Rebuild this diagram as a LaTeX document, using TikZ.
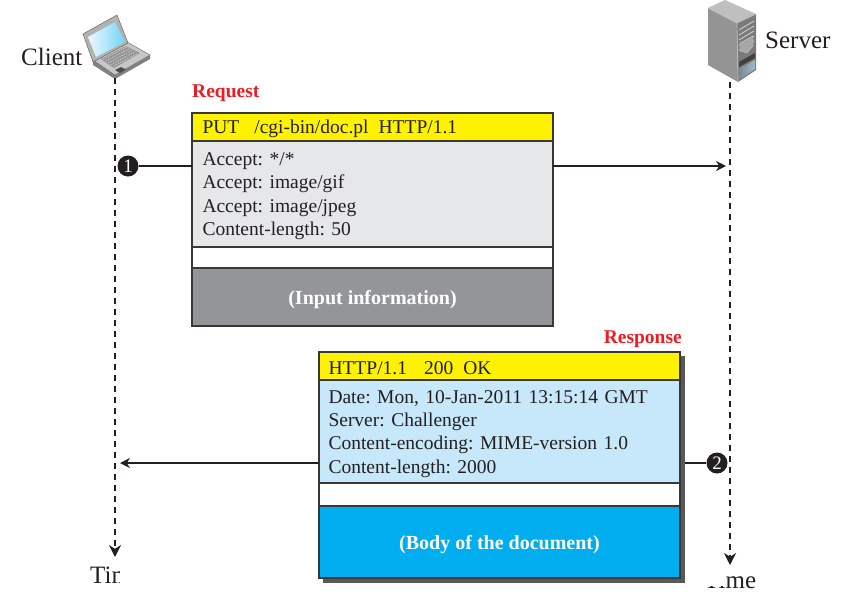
\documentclass[tikz,border=0pt]{standalone}
\usepackage{fontspec}
\setmainfont{Liberation Serif}
\usepackage{tikz}
\usetikzlibrary{arrows.meta, positioning}

\definecolor{inkline}{HTML}{231F20}
\definecolor{boxline}{HTML}{3A3836}
\definecolor{headyellow}{HTML}{FFF200}
\definecolor{reqgrey}{HTML}{E6E7E8}
\definecolor{inputgrey}{HTML}{939598}
\definecolor{resblue}{HTML}{C7E8FB}
\definecolor{bodyblue}{HTML}{00AEEF}
\definecolor{labelred}{HTML}{ED1C24}
\definecolor{shadowgrey}{HTML}{58595B}

\begin{document}
\frenchspacing
\begin{tikzpicture}[
  x=1pt, y=-1pt,
  node distance=0pt,
  part/.style={draw=boxline, line width=1.1pt, minimum width=361pt, outer sep=0pt, inner sep=0pt, text=inkline},
  headbar/.style={part, fill=headyellow, minimum height=28pt, text width=342pt, align=left, font=\fontsize{19.5}{24}\selectfont, execute at begin node=\rule{0pt}{16.5pt}},
  lines/.style={part, text width=342pt, align=left, font=\fontsize{19.5}{23.4}\selectfont, execute at begin node=\rule{0pt}{17.5pt}},
  gapbar/.style={part, fill=white, minimum height=21pt},
  loadbar/.style={part, text=white, text height=15pt, text depth=0.5pt, font=\fontsize{20}{24}\selectfont\bfseries},
  tag/.style={text=labelred, font=\fontsize{19.5}{24}\selectfont\bfseries, inner sep=0pt},
  actor/.style={text=inkline, font=\fontsize{25}{30}\selectfont, inner sep=0pt},
  badge/.style={circle, fill=inkline, text=white, minimum size=21pt, inner sep=0pt, font=\fontsize{19}{20}\selectfont},
  lane/.style={-{Stealth[length=12pt, width=12pt]}, inkline, line width=2.4pt, dash pattern=on 6pt off 5pt},
  link/.style={-{Stealth[length=10pt, width=10pt]}, inkline, line width=1.6pt},
  stub/.style={inkline, line width=1.6pt}
]
\useasboundingbox (0,0) rectangle (858,600);

% request message
\node[headbar, text width=340pt, anchor=north west] (reqhead) at (192,113) {PUT\hspace{15pt}/cgi-bin/doc.pl\hspace{10pt}HTTP/1.1};
\node[lines, text width=340pt, fill=reqgrey, minimum height=106pt, below=of reqhead] (reqbody) {Accept: */*\\Accept: image/gif\\Accept: image/jpeg\\Content-length: 50};
\node[gapbar, below=of reqbody] (reqgap) {};
\node[loadbar, fill=inputgrey, minimum height=58pt, below=of reqgap] (reqload) {(Input information)};
\node[tag, anchor=west] (reqtag) at (192,93) {Request};

% response message, shadow first
\fill[shadowgrey] (323,356) rectangle (685,583);
\node[headbar, anchor=north west] (reshead) at (319,352) {HTTP/1.1\hspace{17pt}200\hspace{10pt}OK};
\node[lines, fill=resblue, minimum height=103pt, below=of reshead] (resbody) {Date: Mon, 10-Jan-2011 13:15:14 GMT\\Server: Challenger\\Content-encoding: MIME-version 1.0\\Content-length: 2000};
\node[gapbar, minimum height=23pt, below=of resbody] (resgap) {};
\node[loadbar, fill=bodyblue, minimum height=72pt, below=of resgap] (resload) {(Body of the document)};
\node[tag, anchor=east] (restag) at (682,339) {Response};

% laptop
\fill[black!50] (93,60) -- (115,75) -- (150,55) -- (150,59) -- (115,79) -- (93,65) -- cycle;
\filldraw[draw=black!55, line width=0.5pt, fill=black!22] (93,60) -- (115,75) -- (150,55) -- (127,42) -- cycle;
\fill[black!42] (101,59) -- (114,68) -- (140,53) -- (126,46) -- cycle;
\foreach \i in {0,...,4} {
  \draw[black!15, line width=0.6pt, dash pattern=on 1.5pt off 1pt] (103+\i*2.6,59.5+\i*1.7) -- (127.5+\i*2.6,46.5+\i*1.7);
}
\fill[black!70] (115,70) -- (120,73) -- (126,69.5) -- (121,67) -- cycle;
\filldraw[draw=black!60, line width=0.5pt, fill=black!30] (83,34) -- (117,15) -- (128,43) -- (93,62) -- cycle;
\shade[left color=white!70!resblue, right color=bodyblue!55] (88,37) -- (115,22) -- (125,42) -- (96,57) -- cycle;
% server box
\fill[black!42] (708,8) -- (737,23) -- (738,82) -- (708,65) -- cycle;
\fill[black!25] (708,8) -- (725,0) -- (756,14) -- (737,23) -- cycle;
\fill[black!52] (737,23) -- (756,14) -- (756,70) -- (738,82) -- cycle;
\foreach \i in {0,...,4} {
  \draw[black!22, line width=1pt] (739,30+\i*5) -- (754,21+\i*5);
}
\filldraw[draw=black!20, fill=black!35] (740,43) -- (753,36) -- (753,46) -- (747,53) -- (740,51) -- cycle;
\fill[black!75] (739,62) -- (755,53) -- (755,58) -- (739,67) -- cycle;
\shade[left color=resblue!60!black, right color=resblue!80!black] (739,69) -- (755,60) -- (755,69) -- (739,80) -- cycle;
\draw[white!75!black, line width=0.7pt] (708,8) -- (737,23) -- (756,14) (737,23) -- (738,82);

\node[actor, anchor=base west] (client) at (21,65) {Client};
\node[actor, anchor=base west] (server) at (765,48) {Server};
\node[actor, anchor=base west] (timea) at (90,583) {Time};
\node[actor, anchor=base west] (timeb) at (704,588) {Time};
% the print cuts these two words off
\fill[white] (120,560) rectangle (165,595);
\fill[white] (695,566) rectangle (725.5,586);

\coordinate (clienttop) at (115,78);
\coordinate (clientend) at (115,557);
\coordinate (servertop) at (730,82);
\coordinate (serverend) at (730,565);
\draw[lane] (clienttop) -- (clientend);
\draw[lane] (servertop) -- (serverend);

\node[badge] (one) at (128,166) {1};
\node[badge] (two) at (717,463) {2};
\coordinate (reqin) at (reqbody.west |- one);
\coordinate (reqout) at (reqbody.east |- one);
\coordinate (reqhit) at (726,166);
\coordinate (resin) at (685,463);
\coordinate (resout) at (resbody.west |- two);
\coordinate (reshit) at (120,463);
\draw[stub] (one) -- (reqin);
\draw[link] (reqout) -- (reqhit);
\draw[stub] (two) -- (resin);
\draw[link] (resout) -- (reshit);
\end{tikzpicture}
\end{document}
